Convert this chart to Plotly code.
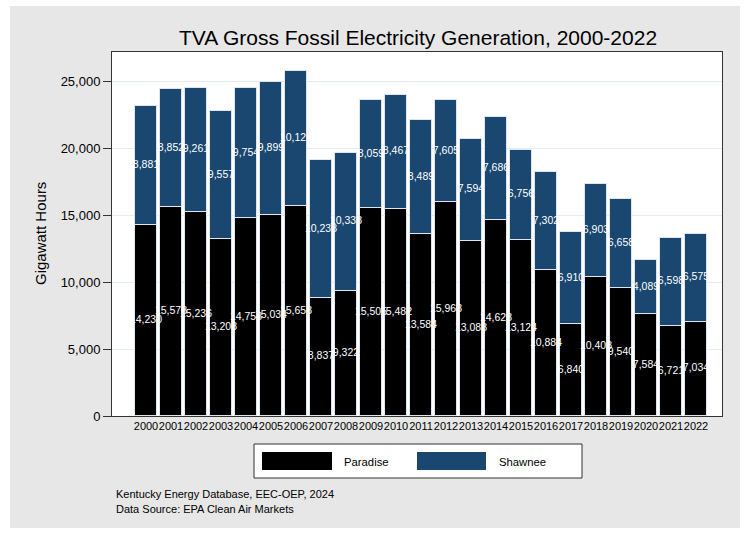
import plotly.graph_objects as go

years = [str(y) for y in range(2000, 2023)]
paradise = [14230, 15578, 15236, 13208, 14758, 15034, 15658, 8837, 9322, 15505,
            15482, 13584, 15968, 13088, 14628, 13124, 10884, 6840, 10408, 9540,
            7584, 6721, 7034]
shawnee = [8881, 8852, 9261, 9557, 9754, 9899, 10124, 10238, 10338, 8059,
           8467, 8489, 7605, 7594, 7686, 6756, 7302, 6910, 6903, 6658,
           4089, 6598, 6575]
y_ticks = [0, 5000, 10000, 15000, 20000, 25000]

FONT = "Liberation Sans, Arial, sans-serif"
NAVY = "#1a476f"
BG = "#e7e7e7"

idx = list(range(len(years)))

fig = go.Figure()
for name, vals, color in [("Paradise", paradise, "#000000"), ("Shawnee", shawnee, NAVY)]:
    fig.add_trace(go.Bar(
        x=idx, y=vals, name=name, width=0.88,
        marker=dict(color=color, line=dict(color="#dde6ee", width=1)),
        showlegend=False, hoverinfo="skip",
    ))

# segment labels drawn on top of all bars (centre of each stacked segment)
lab_x = idx + idx
lab_y = [p / 2 for p in paradise] + [p + s / 2 for p, s in zip(paradise, shawnee)]
lab_t = [f"{v:,}" for v in paradise] + [f"{v:,}" for v in shawnee]
fig.add_trace(go.Scatter(
    x=lab_x, y=lab_y, text=lab_t, mode="text", textposition="middle center",
    textfont=dict(color="white", size=10.5, family=FONT), showlegend=False,
    hoverinfo="skip", cliponaxis=True,
))

L, R, T, B = 112, 26, 52, 118
W, H = 748, 534
pw, ph = W - L - R, H - T - B


def px(x):
    return (x - L) / pw


def py(y):
    return (H - B - y) / ph


shapes = [
    dict(type="rect", xref="paper", yref="paper", x0=px(10), x1=px(740), y0=py(528), y1=py(6),
         fillcolor=BG, line=dict(width=0), layer="below"),
    dict(type="rect", xref="paper", yref="paper", x0=0, x1=1, y0=0, y1=1,
         fillcolor="white", line=dict(width=0), layer="below"),
    # legend box
    dict(type="rect", xref="paper", yref="paper", x0=px(254), x1=px(582), y0=py(478), y1=py(444),
         fillcolor="white", line=dict(color="#333333", width=1)),
    dict(type="rect", xref="paper", yref="paper", x0=px(262), x1=px(332), y0=py(470), y1=py(452),
         fillcolor="#000000", line=dict(width=0)),
    dict(type="rect", xref="paper", yref="paper", x0=px(417), x1=px(486), y0=py(470), y1=py(452),
         fillcolor=NAVY, line=dict(width=0)),
]

annotations = [
    dict(text="Paradise", xref="paper", yref="paper", x=px(342), y=py(462), xanchor="left",
         yanchor="middle", showarrow=False, font=dict(size=11.3, color="black", family=FONT)),
    dict(text="Shawnee", xref="paper", yref="paper", x=px(497), y=py(462), xanchor="left",
         yanchor="middle", showarrow=False, font=dict(size=11.3, color="black", family=FONT)),
    dict(text="Kentucky Energy Database, EEC-OEP, 2024", xref="paper", yref="paper",
         x=px(114), y=py(494), xanchor="left", yanchor="middle", showarrow=False,
         font=dict(size=11, color="black", family=FONT)),
    dict(text="Data Source: EPA Clean Air Markets", xref="paper", yref="paper",
         x=px(114), y=py(509), xanchor="left", yanchor="middle", showarrow=False,
         font=dict(size=11, color="black", family=FONT)),
    dict(text="Gigawatt Hours", xref="paper", yref="paper", x=px(40), y=py(234),
         xanchor="center", yanchor="middle", textangle=-90, showarrow=False,
         font=dict(size=15, color="black", family=FONT)),
]

fig.update_layout(
    width=W, height=H,
    margin=dict(l=L, r=R, t=T, b=B, pad=0),
    barmode="stack",
    paper_bgcolor="white",
    plot_bgcolor="rgba(0,0,0,0)",
    font=dict(family=FONT, color="black"),
    title=dict(text="TVA Gross Fossil Electricity Generation, 2000-2022",
               x=px(418), xanchor="center", xref="paper", y=1 - 38 / H, yanchor="middle",
               font=dict(size=21, color="black", family=FONT)),
    shapes=shapes,
    annotations=annotations,
    showlegend=False,
    bargap=0,
)

fig.update_xaxes(
    range=[-1.36, 23.04], tickmode="array", tickvals=idx, ticktext=years,
    tickangle=0, tickfont=dict(size=11, family=FONT, color="black"),
    showgrid=False, showline=True, linecolor="#333333", linewidth=1, mirror=True,
    ticks="", zeroline=False, fixedrange=True,
)
fig.update_yaxes(
    range=[0, 27164], tickmode="array", tickvals=y_ticks, tickformat=",",
    tickfont=dict(size=13, family=FONT, color="black"),
    showgrid=True, gridcolor="#e4eef0", gridwidth=1,
    showline=True, linecolor="#333333", linewidth=1, mirror=True,
    ticks="outside", ticklen=8, tickcolor="#333333", zeroline=False,
)

fig.write_html("out.html", config={"displayModeBar": False},
               post_script="document.body.style.margin='0';")
